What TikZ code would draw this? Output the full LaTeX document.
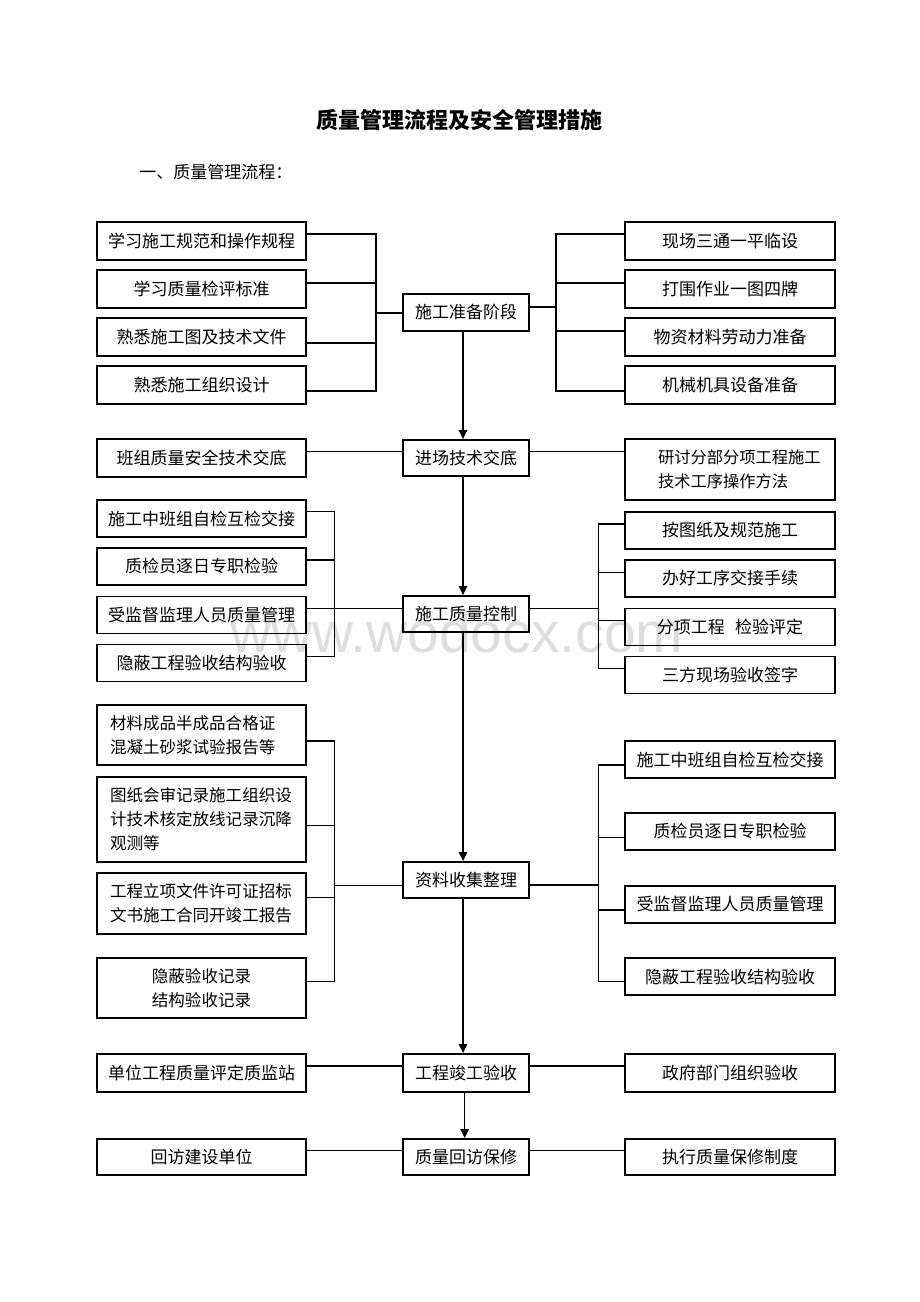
\documentclass[tikz,border=0pt]{standalone}
\usepackage{fontspec}
\setmainfont{Noto Sans CJK SC}
\newfontfamily\wmfont{Liberation Sans}
\usetikzlibrary{arrows.meta,calc}
\begin{document}
\begin{tikzpicture}[x=0.75pt,y=-0.75pt,
  box/.style={draw, line width=1.4pt, inner sep=0pt, align=center,
    font=\fontsize{12.75pt}{18pt}\selectfont},
  lbox/.style={box, minimum width=156.75pt},
  cbox/.style={box, minimum width=94.5pt},
  rbox/.style={box, minimum width=157.5pt},
  lpara/.style={box, text width=137.25pt, inner xsep=9.75pt, align=left,
    font=\fontsize{12.4pt}{18pt}\selectfont},
  conn/.style={line width=0.8pt},
  arr/.style={line width=1.1pt, -{Triangle[length=6.8pt,width=6.4pt]}}]
\fill[white] (0,0) rectangle (920,1302);
\useasboundingbox (0,0) rectangle (920,1302);

\node[anchor=base west, inner sep=0pt, text=black!13,
  font=\wmfont\fontsize{42.75pt}{50pt}\selectfont] (wm) at (230,652) {www.wodocx.com};

\node[font=\fontsize{16.5pt}{20pt}\selectfont\bfseries] (title) at (459,120) {质量管理流程及安全管理措施};
\node[anchor=west, inner sep=0pt, font=\fontsize{12.75pt}{18pt}\selectfont] (sub) at (139,172) {一、质量管理流程：};

% row 1
\node[lbox, minimum height=28.5pt] (L1) at (201.5,241) {学习施工规范和操作规程};
\node[lbox, minimum height=28.5pt] (L2) at (201.5,289) {学习质量检评标准};
\node[lbox, minimum height=28.5pt] (L3) at (201.5,337) {熟悉施工图及技术文件};
\node[lbox, minimum height=28.5pt] (L4) at (201.5,385) {熟悉施工组织设计};
\node[cbox, minimum height=27.75pt] (C1) at (466,312.5) {施工准备阶段};
\node[rbox, minimum height=28.5pt] (R1) at (730,241) {现场三通一平临设};
\node[rbox, minimum height=28.5pt] (R2) at (730,289) {打围作业一图四牌};
\node[rbox, minimum height=28.5pt] (R3) at (730,337) {物资材料劳动力准备};
\node[rbox, minimum height=28.5pt] (R4) at (730,385) {机械机具设备准备};

% row 2
\node[lbox, minimum height=28.5pt] (L5) at (201.5,458) {班组质量安全技术交底};
\node[cbox, minimum height=27pt] (C2) at (466,458) {进场技术交底};
\node[box, minimum height=45.75pt, text width=108pt, inner xsep=24.75pt, align=left, font=\fontsize{12.2pt}{18pt}\selectfont] (R5) at (730,469.5) {研讨分部分项工程施工\\技术工序操作方法};

% row 3
\node[lbox, minimum height=27.75pt] (L6) at (201.5,518.5) {施工中班组自检互检交接};
\node[lbox, minimum height=27.75pt] (L7) at (201.5,566.5) {质检员逐日专职检验};
\node[lbox, minimum height=27.75pt] (L8) at (201.5,615) {受监督监理人员质量管理};
\node[lbox, minimum height=27.75pt] (L9) at (201.5,663) {隐蔽工程验收结构验收};
\node[cbox, minimum height=27pt] (C3) at (466,614) {施工质量控制};
\node[rbox, minimum height=27.75pt] (R6) at (730,530.3) {按图纸及规范施工};
\node[rbox, minimum height=27.75pt] (R7) at (730,578.3) {办好工序交接手续};
\node[rbox, minimum height=27.75pt] (R8) at (730,627) {分项工程\hspace{0.6em}检验评定};
\node[rbox, minimum height=27.75pt] (R9) at (730,675) {三方现场验收签字};

% row 4
\node[lpara, minimum height=45pt] (LA) at (201.5,735) {材料成品半成品合格证\\混凝土砂浆试验报告等};
\node[lpara, minimum height=63.75pt] (LB) at (201.5,819.5) {图纸会审记录施工组织设\\计技术核定放线记录沉降\\观测等};
\node[lpara, minimum height=45.75pt] (LC) at (201.5,903.5) {工程立项文件许可证招标\\文书施工合同开竣工报告};
\node[lbox, minimum height=45pt, font=\fontsize{12.4pt}{18pt}\selectfont] (LD) at (201.5,988) {隐蔽验收记录\\结构验收记录};
\node[cbox, minimum height=27pt] (C4) at (466,880) {资料收集整理};
\node[rbox, minimum height=27.75pt] (R10) at (730,759.5) {施工中班组自检互检交接};
\node[rbox, minimum height=27.75pt] (R11) at (730,831.5) {质检员逐日专职检验};
\node[rbox, minimum height=27.75pt] (R12) at (730,904.3) {受监督监理人员质量管理};
\node[rbox, minimum height=27.75pt] (R13) at (730,976.5) {隐蔽工程验收结构验收};

% row 5
\node[lbox, minimum height=28.5pt] (L10) at (201.5,1073) {单位工程质量评定质监站};
\node[cbox, minimum height=28.5pt] (C5) at (466,1073) {工程竣工验收};
\node[rbox, minimum height=28.5pt] (R14) at (730,1073) {政府部门组织验收};

% row 6
\node[lbox, minimum height=27pt] (L11) at (201.5,1157) {回访建设单位};
\node[cbox, minimum height=27pt] (C6) at (466,1157) {质量回访保修};
\node[rbox, minimum height=27pt] (R15) at (730,1157) {执行质量保修制度};

% connectors row 1
\coordinate (jA) at (376,313);
\foreach \n/\o in {L1/-7,L2/-6,L3/6,L4/6}
  \draw[conn] ($(\n.east)+(0,\o)$) -| (jA);
\draw[conn] (jA) -- (C1.west |- jA);
\coordinate (jB) at (556,307);
\draw[conn] (C1.east |- jB) -- (jB);
\foreach \n/\o in {R1/-7,R2/-6,R3/-6,R4/6}
  \draw[conn] (jB) |- ($(\n.west)+(0,\o)$);

% row 2
\draw[conn] ($(L5.east)+(0,-6.3)$) -- ($(C2.west)+(0,-6.3)$);
\draw[conn] ($(C2.east)+(0,-6.3)$) coordinate (t5) -- (t5 -| R5.west);

% row 3
\coordinate (jD) at (334.3,608.3);
\draw[conn] (L8.east |- jD) -- (C3.west |- jD);
\foreach \n/\o in {L6/-6.8,L7/-6.5,L9/-6.3}
  \draw[conn] ($(\n.east)+(0,\o)$) -| (jD);
\coordinate (jE) at (598.3,608.3);
\draw[conn] (C3.east |- jE) -- (jE);
\foreach \n/\o in {R6/-6.3,R7/-5.7,R8/-6.3,R9/-6.7}
  \draw[conn] (jE) |- ($(\n.west)+(0,\o)$);

% row 4
\coordinate (jF) at (334.3,885.7);
\draw[conn] (jF) -- (C4.west |- jF);
\foreach \n/\o in {LA/6,LB/6,LC/-6,LD/-6.3}
  \draw[conn] ($(\n.east)+(0,\o)$) -| (jF);
\coordinate (jG) at (598.3,885);
\draw[conn] (C4.east |- jG) -- (jG);
\foreach \n/\o in {R10/5.5,R11/5.8,R12/5.7,R13/5.2}
  \draw[conn] (jG) |- ($(\n.west)+(0,\o)$);

% row 5 and 6
\draw[conn] ($(L10.east)+(0,-7)$) -- ($(C5.west)+(0,-7)$);
\draw[conn] ($(C5.east)+(0,-7)$) -- ($(R14.west)+(0,-7)$);
\draw[conn] ($(L11.east)+(0,-6.3)$) -- ($(C6.west)+(0,-6.3)$);
\draw[conn] ($(C6.east)+(0,-6.3)$) -- ($(R15.west)+(0,-6.3)$);

% arrows
\draw[arr] ([xshift=-2.25pt]C1.south) -- ([xshift=-2.25pt]C2.north);
\draw[arr] ([xshift=-2.25pt]C2.south) -- ([xshift=-2.25pt]C3.north);
\draw[arr] ([xshift=-2.25pt]C3.south) -- ([xshift=-2.25pt]C4.north);
\draw[arr] ([xshift=-2.25pt]C4.south) -- ([xshift=-2.25pt]C5.north);
\draw[arr] ([xshift=-1pt]C5.south) -- ([xshift=-1pt]C6.north);
\end{tikzpicture}
\end{document}
